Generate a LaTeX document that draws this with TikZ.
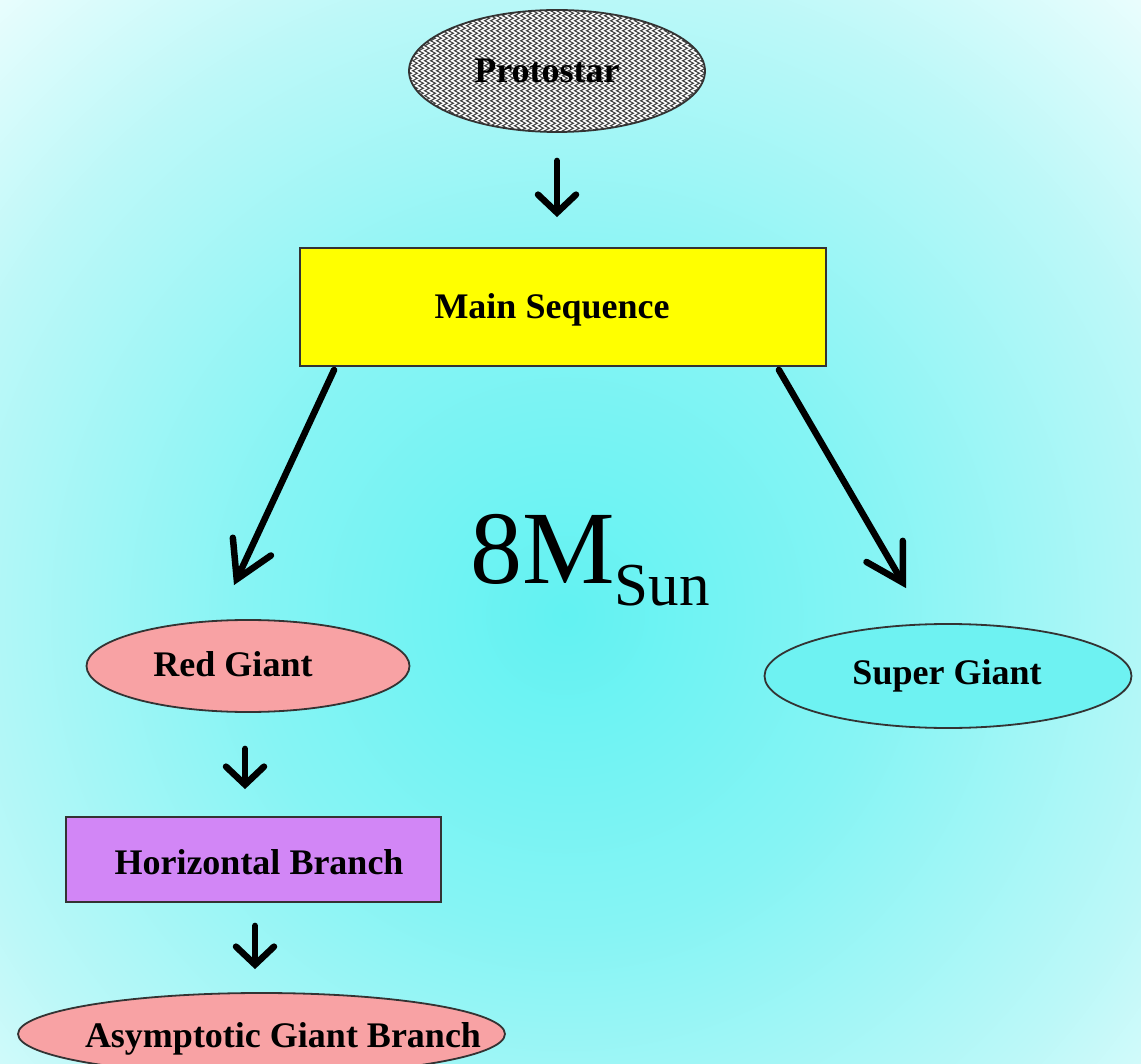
\documentclass[tikz,border=0pt]{standalone}
\usepackage{fontspec}
\setmainfont{Liberation Serif}
\usetikzlibrary{shapes.geometric,arrows.meta,calc,decorations.pathmorphing}
\definecolor{bgA}{HTML}{62F2F2}
\definecolor{bgB}{HTML}{86F4F4}
\definecolor{bgC}{HTML}{BCF8F8}
\definecolor{bgD}{HTML}{F2FEFE}
\definecolor{pinkfill}{HTML}{F8A2A4}
\definecolor{cyanfill}{HTML}{6EF2F2}
\definecolor{purplefill}{HTML}{D286F6}
\definecolor{yellowfill}{HTML}{FFFF00}
\definecolor{edge}{HTML}{333333}
\pgfdeclareradialshading{bgshade}{\pgfpoint{0bp}{0bp}}{color(0bp)=(bgA); color(9bp)=(bgB); color(18bp)=(bgC); color(25bp)=(bgD); color(50bp)=(white)}
\tikzset{
  lbl/.style={font=\fontsize{36}{40}\selectfont\bfseries, text=black},
  ellnode/.style={ellipse, draw=edge, line width=1.8pt, inner sep=0pt, lbl},
  boxnode/.style={rectangle, draw=edge, line width=1.8pt, inner sep=0pt, lbl},
  shortarrow/.style={line width=6.5pt, line cap=round, -{Straight Barb[length=18pt,width=38pt,line cap=round]}},
  longarrow/.style={line width=6.5pt, line cap=round, -{Straight Barb[length=36pt,width=42pt,line cap=round]}},
}
\begin{document}
\begin{tikzpicture}[x=1pt,y=-1pt]
\useasboundingbox (0,0) rectangle (1141,1064);
\begin{scope}
  \clip (0,0) rectangle (1141,1064);
  \shade[shading=bgshade] (565,615) circle (880);
\end{scope}

\node[ellnode, fill=white, minimum width=296pt, minimum height=122pt,
  path picture={
    \foreach \i in {0,...,52}{
      \draw[black!75, line width=1.1pt, decorate,
        decoration={zigzag,segment length=5pt,amplitude=2.4pt}]
        ([xshift=\i*6pt]path picture bounding box.south west) -- ++(0pt,130pt);
    }
  }] (ps) at (557,71) {};
\node[lbl] (pstext) at (547,71) {Protostar};

\node[boxnode, fill=yellowfill, minimum width=526pt, minimum height=118pt] (ms) at (563,307) {};
\node[lbl] (mstext) at (552,310) {Main Sequence};

\node[ellnode, fill=pinkfill, minimum width=323pt, minimum height=92pt] (rg) at (248,666) {};
\node[lbl] (rgtext) at (233,664) {Red Giant};

\node[ellnode, fill=cyanfill, minimum width=367pt, minimum height=104pt] (sg) at (948,676) {};
\node[lbl] (sgtext) at (947,676) {Super Giant};

\node[boxnode, fill=purplefill, minimum width=375pt, minimum height=85pt] (hb) at (253.5,859.5) {};
\node[lbl] (hbtext) at (259,862) {Horizontal Branch};

\node[ellnode, fill=pinkfill, minimum width=487pt, minimum height=82pt] (agb) at (261.5,1034) {};
\node[lbl] (agbtext) at (283,1039) {Asymptotic Giant Branch};

\node[anchor=base west, inner sep=0pt] (mass) at (470,583)
  {\fontsize{104}{110}\selectfont 8M\raisebox{-22pt}{\fontsize{61}{64}\selectfont Sun}};

\draw[shortarrow] ($(ps.south)+(0,28)$) -- ($(ps.south |- ms.north)+(0,-30)$);
\draw[longarrow] ($(ms.south west)+(35,3)$) -- ($(rg.north)+(-14,-34)$);
\draw[longarrow] ($(ms.south east)+(-48,3)$) -- ($(sg.north)+(-42,-35)$);
\draw[shortarrow] ($(rg.south)+(-3,36)$) -- ($(rg.south |- hb.north)+(-3,-27)$);
\draw[shortarrow] ($(hb.south)+(1.5,23)$) -- ($(hb.south |- agb.north)+(1.5,-23)$);
\end{tikzpicture}
\end{document}
